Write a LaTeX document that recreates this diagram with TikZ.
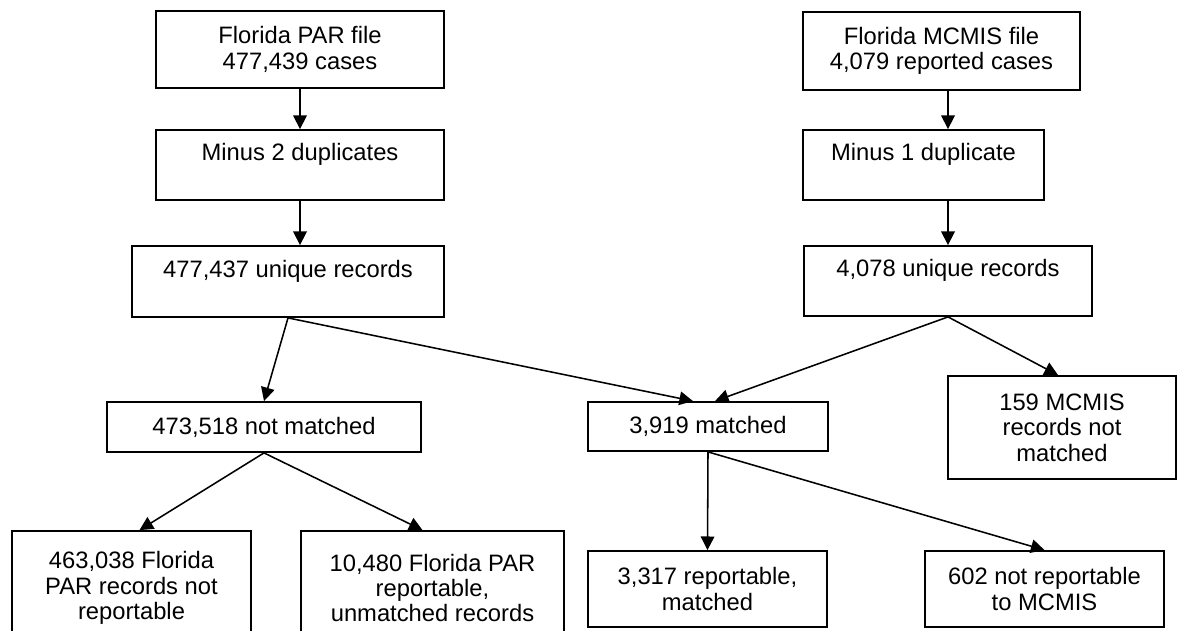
\documentclass[tikz,border=0pt]{standalone}
\usepackage{fontspec}
\setmainfont{Liberation Sans}
\usetikzlibrary{arrows.meta, positioning, calc}

\begin{document}
\begin{tikzpicture}[
  countbox/.style={
    draw, line width=1.3pt, align=center, inner sep=0pt,
    font=\fontsize{16.9}{18.1}\selectfont
  },
  arrow/.style={-{Triangle[length=3.4mm,width=3.4mm]}, line width=1.1pt}
]
\useasboundingbox (0,0) rectangle (29.425,-15.775);

% --- PAR file side ---
\node[countbox, minimum width=7.2cm, minimum height=1.925cm] (parfile) at (7.5,-1.2375) {Florida PAR file\\477,439 cases};
\node[countbox, minimum width=7.2cm, minimum height=1.75cm] (pardup) at (7.5,-4.125) {Minus 2 duplicates\\\mbox{}};
\node[countbox, minimum width=7.8cm, minimum height=1.775cm] (parunique) at (7.2,-7.0375) {477,437 unique records\\\mbox{}};

% --- MCMIS file side ---
\node[countbox, minimum width=6.925cm, minimum height=1.95cm] (mcfile) at (23.5375,-1.275) {Florida MCMIS file\\4,079 reported cases};
\node[countbox, minimum width=6.025cm, minimum height=1.75cm] (mcdup) at (23.0875,-4.125) {Minus 1 duplicate\\\mbox{}};
\node[countbox, minimum width=7.2cm, minimum height=1.75cm] (mcunique) at (23.7,-7.025) {4,078 unique records\\\mbox{}};

% --- Matching result ---
\node[countbox, minimum width=7.85cm, minimum height=1.25cm] (notmatched) at (6.6,-10.675) {473,518 not matched};
\node[countbox, minimum width=6cm, minimum height=1.225cm] (matched) at (17.7,-10.6625) {3,919 matched};
\node[countbox, minimum width=5.7cm, minimum height=2.575cm] (mcnot) at (26.55,-10.6875) {159 MCMIS\\records not\\matched};

% --- Reportability ---
\node[countbox, minimum width=5.975cm, minimum height=2.85cm] (parnotrep) at (3.2875,-14.7) {463,038 Florida\\PAR records not\\reportable};
\node[countbox, minimum width=6.575cm, minimum height=2.85cm] (parrep) at (10.8125,-14.7) {10,480 Florida PAR\\reportable,\\unmatched records};
\node[countbox, minimum width=5.975cm, minimum height=1.9cm] (repmatched) at (17.6875,-14.725) {3,317 reportable,\\matched};
\node[countbox, minimum width=5.975cm, minimum height=1.9cm] (notrep) at (26.1125,-14.725) {602 not reportable\\to MCMIS};

% --- Arrows ---
\draw[arrow] (parfile.south) -- (parfile.south |- pardup.north);
\draw[arrow] (pardup.south) -- (pardup.south |- parunique.north);
\draw[arrow] (mcfile.south -| mcunique.north) -- (mcdup.north -| mcunique.north);
\draw[arrow] (mcdup.south -| mcunique.north) -- (mcunique.north);

\draw[arrow] (parunique.south) -- (notmatched.north);
\draw[arrow] (parunique.south) -- ($(matched.north)+(-0.375,0)$);
\draw[arrow] (mcunique.south) -- ($(matched.north)+(0.175,0)$);
\draw[arrow] (mcunique.south) -- ($(mcnot.north)+(-0.1,0)$);

\draw[arrow] (notmatched.south) -- ($(parnotrep.north)+(0.2,0)$);
\draw[arrow] (notmatched.south) -- ($(parrep.north)+(-0.25,0)$);
\draw[arrow] (matched.south) -- (repmatched.north);
\draw[arrow] (matched.south) -- (notrep.north);

\end{tikzpicture}
\end{document}
